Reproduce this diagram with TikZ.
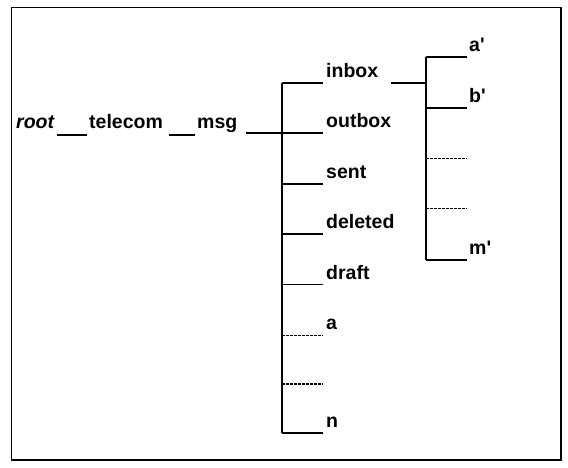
\documentclass[tikz,border=0pt]{standalone}
\usepackage{fontspec}
\setmainfont{Liberation Sans}
\begin{document}
\begin{tikzpicture}[x=1pt,y=-1pt,
  lbl/.style={font=\fontsize{19.5}{22}\selectfont\bfseries, inner sep=0pt, anchor=base west},
  thickln/.style={line width=2pt},
  thinln/.style={line width=1.1pt},
  dashln/.style={line width=1pt, dash pattern=on 3pt off 1pt},
  dashthk/.style={line width=1.6pt, dash pattern=on 3pt off 1pt},
  frame/.style={line width=1.2pt}]
\useasboundingbox (0,0) rectangle (568,467);
\draw[frame] (11.5,7.5) rectangle (561,460);
% root line
\node[lbl] (root) at (16,128.5) {\itshape root};
\node[lbl] (telecom) at (89,128.5) {telecom};
\node[lbl] (msg) at (197,128.5) {msg};
\coordinate (u1a) at (57,134.5);
\coordinate (u1b) at (87,134.5);
\coordinate (u2a) at (169,134.5);
\coordinate (u2b) at (195,134.5);
\coordinate (m0) at (246,133);
\draw[thickln] (u1a) -- (u1b);
\draw[thickln] (u2a) -- (u2b);
% main trunk
\coordinate (tTop) at (282,82.5);
\coordinate (tBot) at (282,433);
\coordinate (tMid) at (282,133);
\draw[thickln] (m0) -- (tMid);
\draw[thickln] (tTop) -- (tBot);
% main branches
\foreach \i/\yy/\txt/\sty in {1/82.5/inbox/thickln, 2/133/outbox/thickln, 3/183.5/sent/thickln, 4/233.5/deleted/thickln, 5/284.5/draft/thinln, 6/335/a/dashln, 7/384/{}/dashthk, 8/433/n/thickln}{
  \coordinate (b\i s) at (282,\yy);
  \coordinate (b\i e) at (323,\yy);
  \draw[\sty] (b\i s) -- (b\i e);
  \node[lbl] (L\i) at (326,\yy-5.5) {\txt};
}
% sub tree
\coordinate (i0) at (391,82.5);
\coordinate (sTop) at (426,57);
\coordinate (sBot) at (426,260);
\coordinate (sMid) at (426,82.5);
\draw[thickln] (i0) -- (sMid);
\draw[thinln] (sTop) -- (sBot);
\foreach \i/\yy/\txt/\sty in {1/57/a\textquotesingle/thinln, 2/108/b\textquotesingle/thinln, 3/158/{}/dashln, 4/208/{}/dashln, 5/260/m\textquotesingle/thinln}{
  \coordinate (c\i s) at (426,\yy);
  \coordinate (c\i e) at (467,\yy);
  \draw[\sty] (c\i s) -- (c\i e);
  \node[lbl] (S\i) at (469,\yy-6) {\txt};
}
\end{tikzpicture}
\end{document}
